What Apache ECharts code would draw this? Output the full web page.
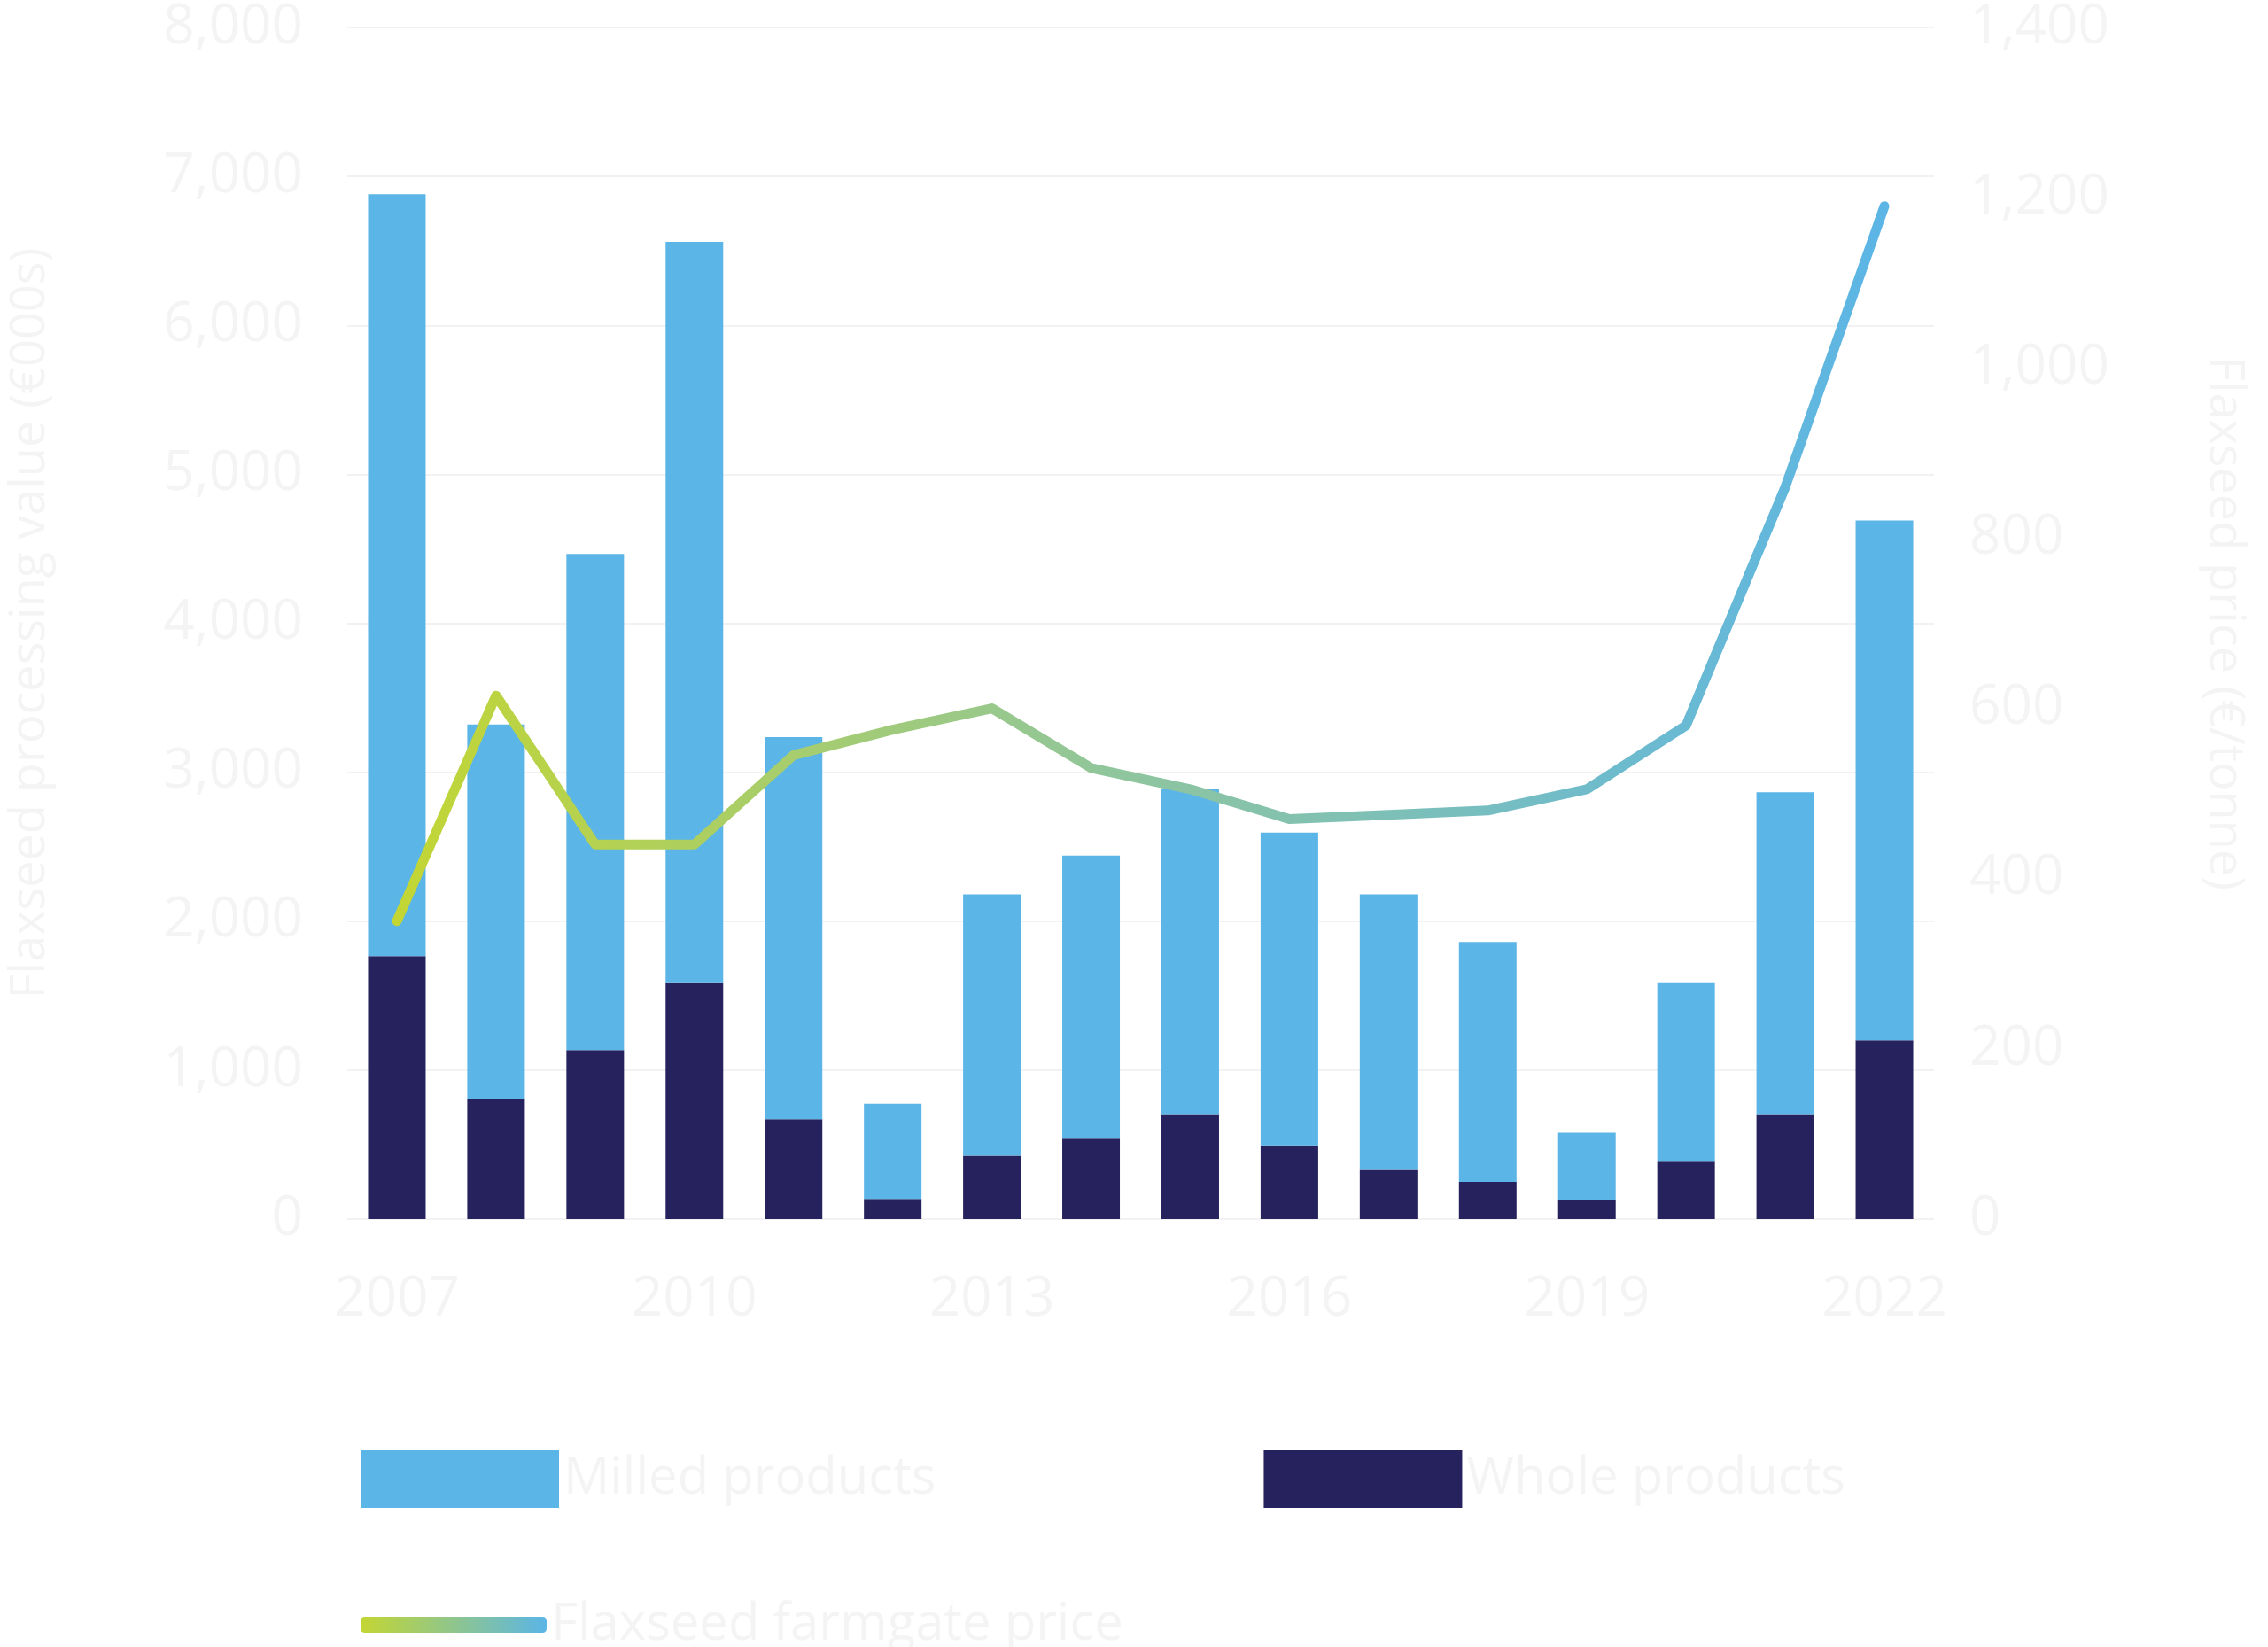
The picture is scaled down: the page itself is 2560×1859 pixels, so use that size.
<!DOCTYPE html>
<html>
<head>
<meta charset="utf-8">
<script src="https://cdn.jsdelivr.net/npm/echarts@6/dist/echarts.min.js"></script>
<style>html,body{margin:0;background:#fff}#main{width:2560px;height:1859px}</style>
</head>
<body>
<div id="main"></div>
<script>
// values
const years = ['2007','2008','2009','2010','2011','2012','2013','2014','2015','2016','2017','2018','2019','2020','2021','2022'];
const totalValue = [6880, 3320, 4465, 6560, 3235, 775, 2180, 2440, 2885, 2595, 2180, 1860, 580, 1590, 2865, 4690];
const wholeProducts = [1765, 805, 1135, 1590, 670, 135, 425, 540, 705, 495, 330, 250, 125, 385, 705, 1200];
const milledProducts = totalValue.map((t, i) => t - wholeProducts[i]);
const farmgatePrice = [350, 615, 440, 440, 545, 575, 600, 530, 505, 470, 475, 480, 505, 580, 860, 1190];

const textColor = '#f4f4f4';
const font = 'Open Sans';
let myChart = echarts.init(document.getElementById('main'));

let option = {
    backgroundColor: '#fff',
    textStyle: { fontFamily: font },
    grid: { left: 371, right: 377, top: 28, bottom: 483 },
    legend: [
        {
            data: ['Milled products', 'Whole products'],
            left: 402, top: 1632,
            itemWidth: 224, itemHeight: 65, itemGap: 370,
            icon: 'rect',
            textStyle: { color: textColor, fontSize: 58, fontFamily: font }
        },
        {
            data: ['Flaxseed farmgate price'],
            left: 402, top: 1800,
            itemWidth: 210, itemHeight: 18,
            icon: 'roundRect',
            textStyle: { color: textColor, fontSize: 58, fontFamily: font }
        }
    ],
    xAxis: {
        type: 'category',
        data: years,
        axisLine: { show: false },
        axisTick: { show: false },
        axisLabel: { interval: 2, color: textColor, fontSize: 62, margin: 60 }
    },
    yAxis: [
        {
            type: 'value', min: 0, max: 8000, interval: 1000,
            name: 'Flaxseed processing value (€000s)',
            nameLocation: 'middle', nameGap: 330, nameRotate: 90,
            nameTextStyle: { color: textColor, fontSize: 54 },
            axisLabel: {
                color: textColor, fontSize: 62, margin: 50,
                formatter: v => v.toLocaleString('en-US')
            },
            splitLine: { lineStyle: { color: '#f2f2f2', width: 2 } }
        },
        {
            type: 'value', min: 0, max: 1400, interval: 200,
            name: 'Flaxseed price (€/tonne)',
            nameLocation: 'middle', nameGap: 300, nameRotate: -90,
            nameTextStyle: { color: textColor, fontSize: 54 },
            axisLabel: { color: textColor, fontSize: 62, margin: 40 },
            splitLine: { show: false }
        }
    ],
    series: [
        {
            name: 'Whole products', type: 'bar', stack: 'v',
            data: wholeProducts, barWidth: 65,
            itemStyle: { color: '#25225d' }
        },
        {
            name: 'Milled products', type: 'bar', stack: 'v',
            data: milledProducts, barWidth: 65,
            itemStyle: { color: '#5bb5e6' }
        },
        {
            name: 'Flaxseed farmgate price', type: 'line', yAxisIndex: 1,
            data: farmgatePrice, symbol: 'none',
            lineStyle: {
                width: 11, cap: 'round', join: 'round',
                color: new echarts.graphic.LinearGradient(0, 0, 1, 0, [
                    { offset: 0, color: '#c3d633' },
                    { offset: 0.5, color: '#8ec5a0' },
                    { offset: 1, color: '#5bb5e6' }
                ])
            },
            itemStyle: {
                color: new echarts.graphic.LinearGradient(0, 0, 1, 0, [
                    { offset: 0, color: '#c3d633' },
                    { offset: 1, color: '#5bb5e6' }
                ])
            }
        }
    ]
};

myChart.setOption(option);
</script>
</body>
</html>
